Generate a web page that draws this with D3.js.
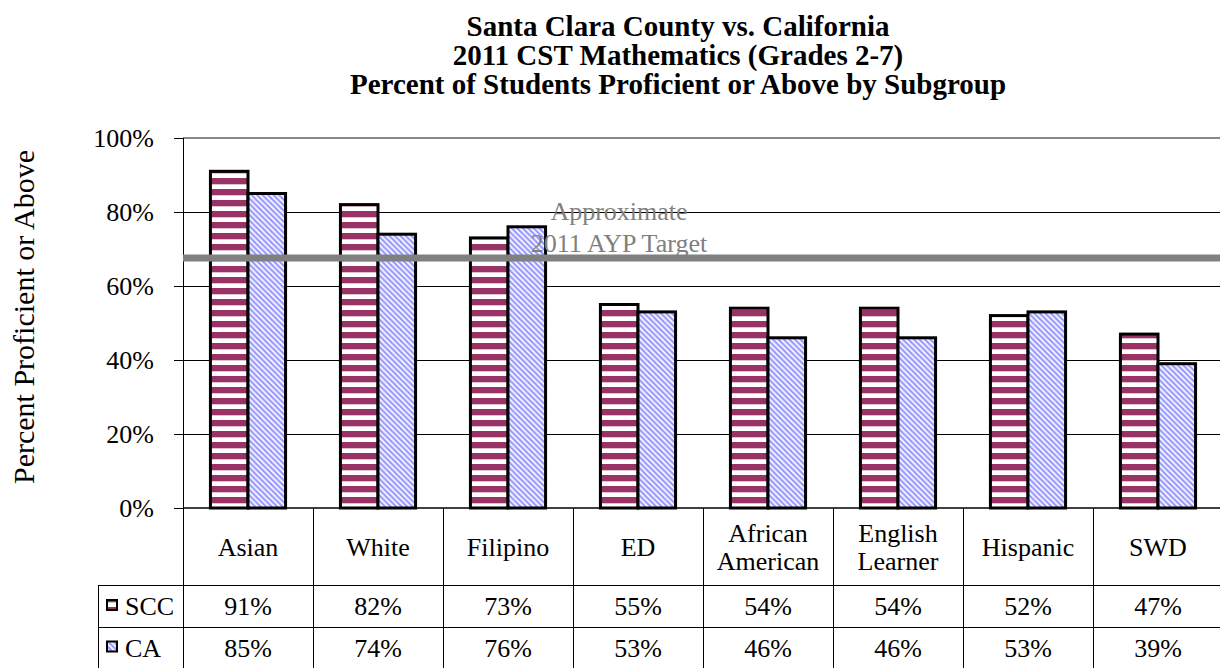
<!DOCTYPE html>
<html>
<head>
<meta charset="utf-8">
<script src="https://cdn.jsdelivr.net/npm/d3@7"></script>
<style>
  html, body { margin: 0; padding: 0; background: #fff; }
  svg { display: block; font-family: "Liberation Serif", "Times New Roman", serif; }
</style>
</head>
<body>
<svg id="chart" width="1220" height="668"></svg>
<script>
// Subgroups along the category axis
const categories = ["Asian", "White", "Filipino", "ED", "African American", "English Learner", "Hispanic", "SWD"];
// Two-line wrapping for the category labels in the data table
const categoryLabelLines = [["Asian"], ["White"], ["Filipino"], ["ED"], ["African", "American"], ["English", "Learner"], ["Hispanic"], ["SWD"]];
// Percent proficient or above
const sccValues = [91, 82, 73, 55, 54, 54, 52, 47];
const caValues = [85, 74, 76, 53, 46, 46, 53, 39];
const seriesNames = ["SCC", "CA"];
const yTicks = [0, 20, 40, 60, 80, 100];
const aypTarget = 67.6;
const aypLabel = ["Approximate", "2011 AYP Target"];
const titleLines = [
  "Santa Clara County vs. California",
  "2011 CST Mathematics (Grades 2-7)",
  "Percent of Students Proficient or Above by Subgroup"
];
const yAxisTitle = "Percent Proficient or Above";

const series = [
  { name: seriesNames[0], values: sccValues, fill: "url(#patSCC)" },
  { name: seriesNames[1], values: caValues, fill: "url(#patCA)" }
];

const FONT = "Liberation Serif, Times New Roman, serif";
const svg = d3.select("#chart");

// Plot frame
const plot = { left: 183, right: 1223, top: 138, bottom: 508 };
const table = { left: 98, catBottom: 585, row1Bottom: 627, row2Bottom: 668 };

// Fill patterns
const defs = svg.append("defs");
const pSCC = defs.append("pattern")
  .attr("id", "patSCC").attr("patternUnits", "userSpaceOnUse")
  .attr("width", 11).attr("height", 11).attr("y", 2);
pSCC.append("rect").attr("width", 11).attr("height", 11).attr("fill", "#fff");
pSCC.append("rect").attr("width", 11).attr("height", 6.3).attr("fill", "#993366");

const pCA = defs.append("pattern")
  .attr("id", "patCA").attr("patternUnits", "userSpaceOnUse")
  .attr("width", 5.5).attr("height", 5.5);
pCA.append("rect").attr("width", 5.5).attr("height", 5.5).attr("fill", "#fff");
pCA.append("path")
  .attr("d", "M-1,-1 L6.5,6.5 M-1,4.5 L1,6.5 M4.5,-1 L6.5,1")
  .attr("stroke", "#9999ff").attr("stroke-width", 2.2).attr("fill", "none");

// Scales
const x0 = d3.scaleBand().domain(categories).range([plot.left, plot.right]).padding(0);
const x1 = d3.scaleBand().domain(seriesNames).range([0, x0.bandwidth()])
  .paddingInner(0).paddingOuter(0.73);
const y = d3.scaleLinear().domain([0, 100]).range([plot.bottom, plot.top]);

// Gridlines
svg.append("g").attr("shape-rendering", "crispEdges").selectAll("line")
  .data(yTicks.filter(t => t > 0 && t < 100))
  .join("line")
  .attr("x1", plot.left).attr("x2", plot.right)
  .attr("y1", d => y(d)).attr("y2", d => y(d))
  .attr("stroke", "#000").attr("stroke-width", 1);

// Top border of plot area
svg.append("line")
  .attr("x1", plot.left).attr("x2", plot.right)
  .attr("y1", y(100)).attr("y2", y(100))
  .attr("stroke", "#888").attr("stroke-width", 2);

// Y axis
const yAxis = d3.axisLeft(y).tickValues(yTicks).tickFormat(d => d + "%").tickSize(9).tickPadding(20);
const yg = svg.append("g").attr("transform", `translate(${plot.left},0)`).call(yAxis)
  .attr("font-family", FONT).attr("shape-rendering", "crispEdges");
yg.select(".domain").attr("stroke", "#000").attr("stroke-width", 1.2);
yg.selectAll(".tick line").attr("stroke", "#000");
yg.selectAll(".tick text")
  .attr("font-family", FONT)
  .attr("font-size", 26).attr("fill", "#000");

// Bars
const groups = svg.append("g").selectAll("g")
  .data(categories)
  .join("g")
  .attr("transform", d => `translate(${x0(d)},0)`);

groups.selectAll("rect")
  .data((c, i) => series.map(s => ({ name: s.name, value: s.values[i], fill: s.fill })))
  .join("rect")
  .attr("x", d => x1(d.name))
  .attr("width", x1.bandwidth())
  .attr("y", d => y(d.value))
  .attr("height", d => y(0) - y(d.value))
  .attr("fill", d => d.fill)
  .attr("stroke", "#000")
  .attr("stroke-width", 3);

// AYP target line and label
svg.append("line")
  .attr("x1", plot.left).attr("x2", plot.right)
  .attr("y1", y(aypTarget)).attr("y2", y(aypTarget))
  .attr("stroke", "#808080").attr("stroke-width", 7);

svg.append("g").selectAll("text")
  .data(aypLabel)
  .join("text")
  .attr("x", 619)
  .attr("y", (d, i) => 220 + i * 32)
  .attr("text-anchor", "middle")
  .attr("font-size", 26)
  .attr("fill", "#808080")
  .text(d => d);

// X axis baseline
svg.append("line")
  .attr("x1", plot.left).attr("x2", plot.right)
  .attr("y1", y(0)).attr("y2", y(0))
  .attr("stroke", "#000").attr("stroke-width", 1.5);

// Data table grid
const tg = svg.append("g").attr("stroke", "#000").attr("stroke-width", 1).attr("shape-rendering", "crispEdges");
const boundaries = categories.map(c => x0(c)).concat([x0(categories[categories.length - 1]) + x0.bandwidth()]);
tg.selectAll("line.v")
  .data(boundaries)
  .join("line")
  .attr("class", "v")
  .attr("x1", d => d).attr("x2", d => d)
  .attr("y1", y(0)).attr("y2", table.row2Bottom);
tg.append("line")
  .attr("x1", table.left).attr("x2", table.left)
  .attr("y1", table.catBottom).attr("y2", table.row2Bottom);
tg.selectAll("line.h")
  .data([table.catBottom, table.row1Bottom, table.row2Bottom])
  .join("line")
  .attr("class", "h")
  .attr("x1", table.left).attr("x2", plot.right)
  .attr("y1", d => d).attr("y2", d => d);

// Category labels
const catMid = (y(0) + table.catBottom) / 2;
svg.append("g").selectAll("text")
  .data(categories.map((c, i) => ({ c, lines: categoryLabelLines[i] })))
  .join("text")
  .attr("text-anchor", "middle")
  .attr("font-size", 26)
  .attr("fill", "#000")
  .each(function (d) {
    const t = d3.select(this);
    const n = d.lines.length;
    d.lines.forEach((ln, k) => {
      t.append("tspan")
        .attr("x", x0(d.c) + x0.bandwidth() / 2)
        .attr("y", catMid + 9 + (k - (n - 1) / 2) * 28)
        .text(ln);
    });
  });

// Value rows with legend keys
const rowTops = [table.catBottom, table.row1Bottom];
const rowBottoms = [table.row1Bottom, table.row2Bottom];
series.forEach((s, si) => {
  const mid = (rowTops[si] + rowBottoms[si]) / 2;
  const row = svg.append("g");
  row.append("rect")
    .attr("x", 107).attr("y", mid - 6)
    .attr("width", 10).attr("height", 10)
    .attr("fill", s.fill)
    .attr("stroke", "#000").attr("stroke-width", 2);
  row.append("text")
    .attr("x", 125).attr("y", mid + 9)
    .attr("font-size", 26).attr("fill", "#000")
    .text(s.name);
  row.selectAll("text.val")
    .data(s.values)
    .join("text")
    .attr("class", "val")
    .attr("x", (d, i) => x0(categories[i]) + x0.bandwidth() / 2)
    .attr("y", mid + 9)
    .attr("text-anchor", "middle")
    .attr("font-size", 26).attr("fill", "#000")
    .text(d => d + "%");
});

// Title
svg.append("g").selectAll("text")
  .data(titleLines)
  .join("text")
  .attr("x", 678)
  .attr("y", (d, i) => 36 + i * 29)
  .attr("text-anchor", "middle")
  .attr("font-size", 29)
  .attr("font-weight", "bold")
  .attr("fill", "#000")
  .text(d => d);

// Y axis title
svg.append("text")
  .attr("transform", `translate(34,${(plot.top + plot.bottom) / 2 - 6}) rotate(-90)`)
  .attr("text-anchor", "middle")
  .attr("font-size", 30)
  .attr("fill", "#000")
  .text(yAxisTitle);
</script>
</body>
</html>
